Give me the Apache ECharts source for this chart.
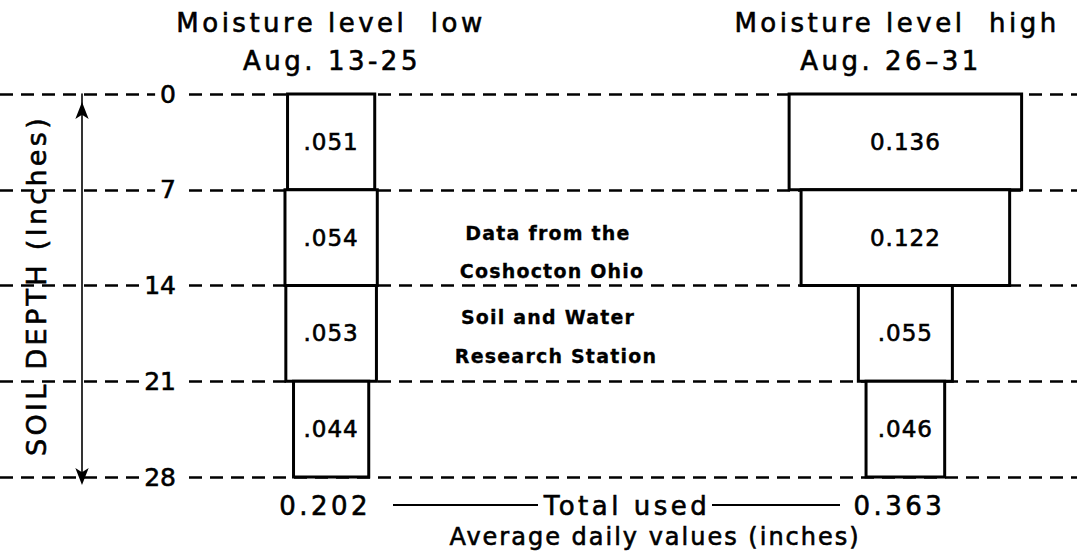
<!DOCTYPE html>
<html>
<head>
<meta charset="utf-8">
<script src="https://cdn.jsdelivr.net/npm/echarts@6/dist/echarts.min.js"></script>
<style>
  html, body { margin: 0; padding: 0; background: #fff; }
  #chart { width: 1077px; height: 555px; }
  #chart text { white-space: pre; stroke: #000; stroke-width: 0.6px; }
  #chart text[style*="26px"] { letter-spacing: 3.5px; }
  #chart text[style*="27px"] { letter-spacing: 3.3px; }
  #chart text[style*="24px"] { letter-spacing: 2px; }
  #chart text[style*="23px"] { letter-spacing: 1px; }
  #chart text[style*="19px"] { letter-spacing: 1.2px; stroke-width: 0.3px; }
</style>
</head>
<body>
<div id="chart"></div>
<script>
// ---- data ----
const depthTicks = [0, 7, 14, 21, 28];             // soil depth (inches)
const layerNames = ['0-7', '7-14', '14-21', '21-28'];
const lowValues = [0.051, 0.054, 0.053, 0.044];    // Aug. 13-25, moisture low
const lowLabels = ['.051', '.054', '.053', '.044'];
const highValues = [0.136, 0.122, 0.055, 0.046];   // Aug. 26-31, moisture high
const highLabels = ['0.136', '0.122', '.055', '.046'];
const totals = [0.202, 0.363];
const totalLabels = ['0.202', '0.363'];
const periodTitles = ['Moisture level  low', 'Moisture level  high'];
const periodDates = ['Aug. 13-25', 'Aug. 26\u201331'];

// ---- layout constants ----
const FONT = 'DejaVu Sans';
const centers = [0.1457, 0.4816];   // column centres on the x scale

function columnSeries(name, values, labels, center) {
  return {
    type: 'custom',
    name: name,
    z: 3,
    data: values.map((v, i) => [center, depthTicks[i], depthTicks[i + 1], v]),
    renderItem: function (params, api) {
      const c = api.value(0), top = api.value(1), bot = api.value(2), v = api.value(3);
      const p1 = api.coord([c, top]);
      const p2 = api.coord([c, bot]);
      const w = api.size([v, 0])[0];
      return {
        type: 'rect',
        shape: { x: p1[0] - w / 2, y: p1[1], width: w, height: p2[1] - p1[1] },
        style: { fill: '#fff', stroke: '#000', lineWidth: 3, lineJoin: 'miter' },
        textContent: {
          style: { text: labels[params.dataIndex], fontSize: 23, fontFamily: FONT, fill: '#000' }
        },
        textConfig: { position: 'inside' }
      };
    }
  };
}

const totalsSeries = {
  type: 'custom',
  name: 'Total used',
  z: 3,
  data: totals.map((t, i) => [centers[i], t]),
  renderItem: function (params, api) {
    const p = api.coord([api.value(0), depthTicks[depthTicks.length - 1]]);
    return {
      type: 'text',
      x: p[0] - 6,
      y: p[1] + 29,
      style: {
        text: totalLabels[params.dataIndex], fontSize: 26, fontFamily: FONT,
        fill: '#000', align: 'center', verticalAlign: 'middle'
      }
    };
  }
};

const textEl = (text, x, y, size, extra) => Object.assign({
  type: 'text', x: x, y: y, z: 10,
  style: Object.assign({ text: text, fontSize: size, fontFamily: FONT, fill: '#000',
    align: 'center', verticalAlign: 'middle' }, extra || {})
});

const option = {
  backgroundColor: '#fff',
  animation: false,
  grid: [
    { left: 0, right: 0, top: 94, bottom: 78, outerBoundsMode: 'none', containLabel: false },
    { left: 82, right: 0, top: 94, bottom: 78, outerBoundsMode: 'none', containLabel: false }
  ],
  xAxis: [
    { gridIndex: 0, type: 'value', min: -0.048, max: 0.582, show: false,
      axisLine: { onZero: false }, splitLine: { show: false } },
    { gridIndex: 1, type: 'value', min: 0, max: 1, show: false,
      axisLine: { onZero: false }, splitLine: { show: false } }
  ],
  yAxis: [
    {
      gridIndex: 0, type: 'value', position: 'left', inverse: true, min: 0, max: 28, interval: 7,
      axisLine: { show: false, onZero: false }, axisTick: { show: false },
      axisLabel: { show: false },
      splitLine: { show: true, lineStyle: { color: '#000', width: 2.5, type: [13, 8] } }
    },
    {
      gridIndex: 1, type: 'value', position: 'left', inverse: true, min: 0, max: 28, interval: 7, z: 10,
      name: 'SOIL DEPTH (Inches)', nameLocation: 'middle', nameGap: 32, nameRotate: 90,
      nameTextStyle: { fontSize: 27, fontFamily: FONT, color: '#000' },
      axisLine: {
        show: true, onZero: false,
        symbol: ['arrow', 'arrow'], symbolSize: [10, 17], symbolOffset: [-8, -8],
        lineStyle: { color: '#000', width: 1.6 }
      },
      axisTick: { show: false },
      splitLine: { show: false },
      axisLabel: {
        show: true, inside: true, margin: 99, align: 'right',
        showMinLabel: true, showMaxLabel: true,
        fontSize: 25, fontFamily: FONT, color: '#000',
        backgroundColor: '#fff', padding: [0, 5],
        formatter: v => String(v)
      }
    }
  ],
  series: [
    columnSeries('Moisture level low', lowValues, lowLabels, centers[0]),
    columnSeries('Moisture level high', highValues, highLabels, centers[1]),
    totalsSeries
  ],
  graphic: [
    textEl(periodTitles[0], 331, 23, 26),
    textEl(periodDates[0], 332, 61, 26),
    textEl(periodTitles[1], 897, 23, 26),
    textEl(periodDates[1], 891, 61, 26),
    textEl('Data from the', 548, 233, 19, { fontWeight: 'bold' }),
    textEl('Coshocton Ohio', 552, 271, 19, { fontWeight: 'bold' }),
    textEl('Soil and Water', 548, 317, 19, { fontWeight: 'bold' }),
    textEl('Research Station', 556, 356, 19, { fontWeight: 'bold' }),
    textEl('Total used', 627, 506, 26),
    textEl('Average daily values (inches)', 655, 537, 24),
    { type: 'line', z: 10, shape: { x1: 393, y1: 505, x2: 538, y2: 505 }, style: { stroke: '#000', lineWidth: 2 } },
    { type: 'line', z: 10, shape: { x1: 712, y1: 505, x2: 840, y2: 505 }, style: { stroke: '#000', lineWidth: 2 } }
  ]
};

const chart = echarts.init(document.getElementById('chart'), null, { renderer: 'svg' });
chart.setOption(option);
</script>
</body>
</html>
